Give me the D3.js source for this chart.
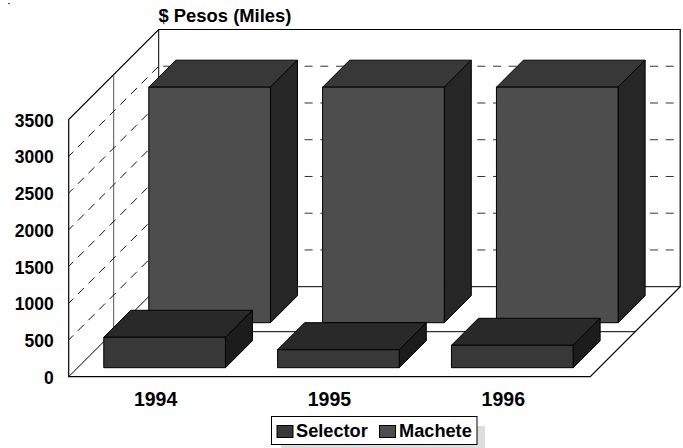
<!DOCTYPE html>
<html>
<head>
<meta charset="utf-8">
<script src="https://cdn.jsdelivr.net/npm/d3@7"></script>
<style>
    html, body { margin: 0; padding: 0; background: #fff; }
    text { font-family: "Liberation Sans", Arial, sans-serif; font-weight: bold; fill: #000; }
    .y_label text { font-size: 17.5px; }
    .x_label text { font-size: 19.5px; }
</style>
</head>
<body>
<div id="chart"></div>
<script>
// values
var years = ["1994", "1995", "1996"];
var seriesNames = ["Selector", "Machete"];
var selectorValues = [414, 245, 305];
var macheteValues = [3205, 3205, 3205];
var yTicks = [0, 500, 1000, 1500, 2000, 2500, 3000, 3500];
var gridTicks = [500, 1000, 1500, 2000, 2500, 3000];

// size of the picture and of the plot box
var setWidth = 683;
var setHeight = 448;
var plotLeft = 68.7, plotRight = 590.2, plotBase = 376.7, plotTop = 119.5;
var depth = 90;

var colours = {
    Selector: {front: "#383838", top: "#292929", side: "#1c1c1c"},
    Machete: {front: "#4d4d4d", top: "#383838", side: "#262626"}
};

var svg = d3.select("#chart")
    .append("svg")
    .attr("width", setWidth)
    .attr("height", setHeight)
    .style("display", "block");

var x = d3.scaleBand()
    .domain(years)
    .range([plotLeft, plotRight])
    .paddingInner(0.3)
    .paddingOuter(0.15);

var y = d3.scaleLinear()
    .domain([0, 3500])
    .range([plotBase, plotTop]);

// z is how far into the box a series sits
var z = d3.scaleBand()
    .domain(seriesNames)
    .range([0, depth])
    .paddingInner(0.4)
    .paddingOuter(0.2);

// 3d point to screen: going back moves up and to the right by the same amount
function pt(px, py, pz) {
    return [px + pz, py - pz];
}

function poly(points, fill, stroke, strokeWidth) {
    svg.append("path")
        .attr("d", d3.line()(points) + "Z")
        .attr("fill", fill)
        .attr("stroke", stroke)
        .attr("stroke-width", strokeWidth)
        .attr("stroke-linejoin", "miter");
}

function seg(a, b, colour, dash, offset) {
    svg.append("line")
        .attr("x1", a[0]).attr("y1", a[1])
        .attr("x2", b[0]).attr("y2", b[1])
        .attr("stroke", colour)
        .attr("stroke-width", 1)
        .attr("stroke-dasharray", dash || null)
        .attr("stroke-dashoffset", offset || 0);
}

// walls and floor of the box
var y0 = y(0), y1 = y(3500);
poly([pt(plotLeft, y0, 0), pt(plotLeft, y1, 0), pt(plotLeft, y1, depth), pt(plotRight, y1, depth),
      pt(plotRight, y0, depth), pt(plotRight, y0, 0)], "#fff", "#000", 1.2);
seg(pt(plotLeft, y0, depth), pt(plotLeft, y1, depth), "#000");
seg(pt(plotLeft, y0, depth), pt(plotRight, y0, depth), "#000");
seg(pt(plotLeft, y0, 0), pt(plotLeft, y0, depth), "#000");

// middle divisions of the left wall and the floor
seg(pt(plotLeft, y0, depth / 2), pt(plotLeft, y1, depth / 2), "#555");
seg(pt(plotLeft, y0, depth / 2), pt(plotRight, y0, depth / 2), "#000");

// dashed grid on the left and back walls
gridTicks.forEach(function (t) {
    seg(pt(plotLeft, y(t), 0), pt(plotLeft, y(t), depth), "#111", "8.5 6.5", 2);
    seg(pt(plotLeft, y(t), depth), pt(plotRight, y(t), depth), "#333", "8 7.7", -4.6);
});

function drawBars(name, values) {
    var c = colours[name];
    var z0 = z(name), z1 = z(name) + z.bandwidth();
    years.forEach(function (year, i) {
        var a = x(year), b = x(year) + x.bandwidth();
        var top = y(values[i]);
        // top, side, front
        poly([pt(a, top, z0), pt(a, top, z1), pt(b, top, z1), pt(b, top, z0)], c.top, "#000", 1);
        poly([pt(b, y0, z0), pt(b, top, z0), pt(b, top, z1), pt(b, y0, z1)], c.side, "#000", 1);
        poly([pt(a, y0, z0), pt(a, top, z0), pt(b, top, z0), pt(b, y0, z0)], c.front, "#000", 1);
    });
}

// back series first so the front one covers it
drawBars("Machete", macheteValues);
drawBars("Selector", selectorValues);

// y axis labels
var yAxis = svg.append("g")
    .attr("class", "y_label")
    .attr("transform", "translate(" + (plotLeft - 9) + ",1)")
    .call(d3.axisLeft(y).tickValues(yTicks).tickSize(0).tickPadding(6).tickFormat(d3.format("d")));
yAxis.select(".domain").remove();

// x axis labels
var xAxis = svg.append("g")
    .attr("class", "x_label")
    .attr("transform", "translate(0," + (plotBase + 12) + ")")
    .call(d3.axisBottom(x).tickSize(0).tickPadding(3));
xAxis.select(".domain").remove();

// title
svg.append("text")
    .attr("x", 158.5)
    .attr("y", 21.5)
    .style("font-size", "18.4px")
    .text("$ Pesos (Miles)");

// stray mark in the top left corner
seg([8, 3.5], [10, 3.5], "#444");

// legend
svg.append("rect").attr("x", 281).attr("y", 426).attr("width", 204).attr("height", 22).attr("fill", "#ddd");
svg.append("rect").attr("x", 271.5).attr("y", 416.5).attr("width", 205.5).attr("height", 28)
    .attr("fill", "#fff").attr("stroke", "#000").attr("stroke-width", 1);

var legendSwatch = [277, 379.5];
var legendText = [296, 399];
seriesNames.forEach(function (name, i) {
    svg.append("rect")
        .attr("x", legendSwatch[i]).attr("y", 425.5)
        .attr("width", 16).attr("height", 12)
        .attr("fill", colours[name].front)
        .attr("stroke", "#000").attr("stroke-width", 1);
    svg.append("text")
        .attr("x", legendText[i])
        .attr("y", 437)
        .style("font-size", "18.2px")
        .text(name);
});
</script>
</body>
</html>
